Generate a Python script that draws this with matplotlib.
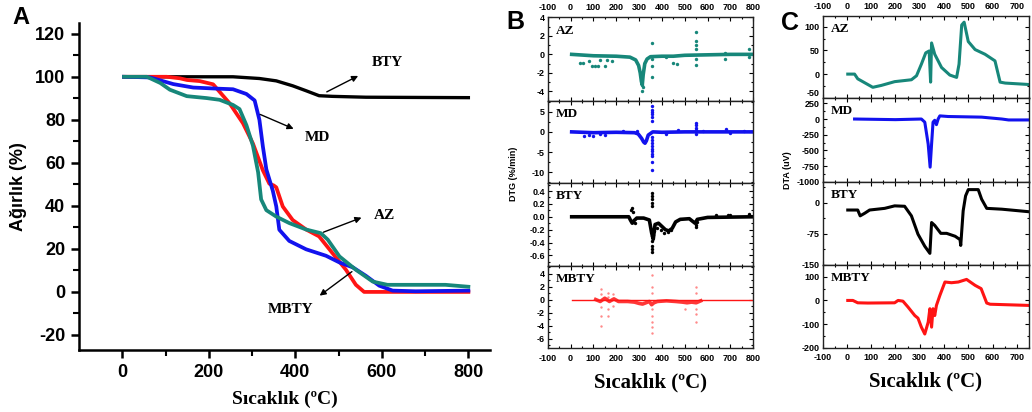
import matplotlib
matplotlib.use("Agg")
import matplotlib.pyplot as plt
from matplotlib.ticker import MultipleLocator, FixedLocator

plt.rcParams['font.family'] = ['Liberation Sans', 'DejaVu Sans']
plt.rcParams['axes.unicode_minus'] = False

TEAL = '#17877a'
BLUE = '#1212ee'
RED = '#ff1414'
BLACK = '#000000'

# ---------------- Panel A: TGA ----------------
az_x = [4, 57, 88, 110, 149, 195, 225, 256, 271, 287, 302, 314, 321, 333, 356, 386, 425, 459, 475, 502, 540, 579, 613, 678, 747, 800]
az_y = [100, 100, 97.1, 94, 91, 90.1, 89.3, 86.9, 85, 77.5, 68, 55.6, 43, 38, 35, 32, 29, 27.3, 24.3, 16.5, 10.3, 4.8, 3.3, 3.3, 3.3, 2.4]
mbty_x = [4, 103, 133, 150, 179, 210, 248, 279, 302, 325, 340, 350, 356, 371, 394, 425, 455, 486, 517, 540, 559, 800]
mbty_y = [100, 100, 99.3, 98.5, 98, 96.5, 87.7, 78.4, 69, 56.5, 50.3, 49.5, 48.6, 39.7, 33.4, 29, 25.8, 18, 10.3, 3.3, 0, 0]
md_x = [4, 64, 118, 164, 218, 256, 287, 306, 317, 325, 333, 348, 356, 363, 386, 425, 471, 502, 533, 563, 594, 625, 678, 800]
md_y = [100, 99.7, 96.6, 95, 94.5, 94.2, 92, 89, 80, 67.6, 57, 47, 39.7, 28.9, 23.7, 19.8, 16.8, 13.7, 11.4, 7.5, 2.9, 0.6, 0.3, 0.6]
bty_x = [4, 256, 317, 356, 394, 425, 455, 486, 563, 800]
bty_y = [100, 100, 99.2, 98.1, 95.8, 93.5, 91.2, 90.9, 90.5, 90.3]

# ---------------- Panel B: DTG ----------------
dtg_az_lx = [5, 100, 200, 260, 285, 298, 305, 310, 314, 318, 325, 335, 350, 400, 450, 500, 600, 700, 800]
dtg_az_ly = [0, -0.15, -0.2, -0.3, -0.6, -1.2, -2.0, -2.9, -3.3, -2.2, -1.0, -0.5, -0.25, -0.2, -0.2, -0.1, -0.05, 0, 0]
dtg_az_px = [40, 53, 80, 95, 105, 120, 130, 150, 160, 180, 311, 314, 318, 358, 358, 358, 358, 420, 450, 465, 547, 547, 547, 547, 547, 547, 678, 678, 782, 782]
dtg_az_py = [-0.9, -0.9, -0.7, -1.26, -1.26, -1.3, -0.6, -1.3, -0.6, -0.7, -3.3, -3.9, -3.5, 1.25, -0.5, -1.3, -2.4, -0.3, -0.9, -1.0, 2.45, 1.4, 1.0, 0.6, -0.5, -1.1, -0.5, 0.1, 0.6, -0.3]

dtg_md_lx = [5, 100, 200, 280, 296, 311, 320, 326, 332, 340, 350, 360, 400, 500, 600, 700, 800]
dtg_md_ly = [0, -0.2, -0.1, -0.2, -0.5, -1.6, -2.5, -2.8, -2.2, -0.8, -0.4, 0, -0.1, 0, 0, 0, 0]
dtg_md_px = [60, 80, 100, 130, 150, 230, 290, 358, 358, 358, 358, 358, 358, 358, 358, 358, 358, 358, 358, 358, 358, 358, 358, 420, 470, 547, 547, 547, 547, 547, 580, 680, 700, 760]
dtg_md_py = [-1.0, -0.7, -0.9, -0.6, -0.8, 0.3, 0.3, 6.3, 5.5, 4.8, 4.3, 3.6, 2.6, -1.2, -2.0, -2.8, -3.5, -4.2, -4.8, -5.4, -6.0, -7.4, -9.5, -0.5, 0.4, 2.3, 1.6, 1.0, 0.5, -0.5, 0.3, 0.6, -0.3, 0.3]

dtg_bty_lx = [5, 255, 262, 270, 278, 290, 320, 345, 355, 362, 370, 385, 400, 415, 430, 445, 460, 480, 520, 545, 555, 600, 800]
dtg_bty_ly = [0, 0, -0.05, -0.1, -0.06, -0.02, -0.02, -0.05, -0.25, -0.35, -0.12, -0.1, -0.15, -0.2, -0.22, -0.18, -0.08, -0.04, -0.03, -0.1, -0.04, -0.01, 0]
dtg_bty_px = [265, 268, 272, 275, 280, 358, 358, 358, 358, 358, 358, 358, 358, 358, 358, 358, 360, 365, 380, 395, 410, 425, 440, 548, 550, 552, 635, 690, 700, 780]
dtg_bty_py = [0.1, 0.13, 0.08, -0.08, -0.1, 0.37, 0.32, 0.27, 0.22, 0.17, -0.2, -0.3, -0.38, -0.45, -0.5, -0.55, -0.28, -0.22, -0.18, -0.2, -0.25, -0.24, -0.2, -0.16, -0.12, -0.08, 0.03, 0.02, 0.02, 0.05]

dtg_mbty_lx = [5, 800]
dtg_mbty_ly = [0, 0]
dtg_mbty_bx = [110, 130, 150, 170, 190, 210, 250, 280, 300, 315, 330, 345, 355, 365, 380, 420, 460, 490, 510, 530, 550, 570]
dtg_mbty_by = [0, -0.3, 0.2, -0.3, 0.1, -0.3, -0.3, -0.4, -0.6, -0.7, -0.5, -0.3, -0.8, -0.5, -0.3, -0.2, -0.3, -0.4, -0.5, -0.4, -0.5, -0.2]
dtg_mbty_px = [133, 133, 133, 133, 133, 163, 163, 163, 163, 184, 184, 358, 358, 358, 358, 358, 358, 358, 358, 503, 547, 547, 547, 547, 547]
dtg_mbty_py = [1.6, 0.8, -1.2, -2.5, -4.0, 1.0, 0.4, -1.4, -2.5, 0.8, -1.0, 3.7, 2.0, 1.0, -1.5, -2.5, -3.5, -4.3, -5.2, -1.5, 2.0, 1.0, -1.5, -2.3, -3.5]

# ---------------- Panel C: DTA ----------------
dta_az_x = [4, 32, 45, 107, 142, 197, 266, 287, 307, 325, 339, 345, 349, 362, 390, 424, 452, 462, 473, 483, 500, 528, 569, 610, 631, 652, 748]
dta_az_y = [0, 0, -10, -28, -24, -16, -12, -3.5, 21, 45, 49, -17, 66, 42, 14, -2, -7, 21, 104, 110, 69, 52, 42, 28, -17, -19, -22]
dta_md_x = [32, 200, 307, 321, 335, 343, 349, 355, 362, 369, 376, 383, 417, 555, 638, 666, 748]
dta_md_y = [0, -10, 0, -50, -400, -768, -400, -50, -20, -90, 0, 50, 40, 30, 0, -15, -15]
dta_bty_x = [4, 45, 55, 73, 94, 156, 197, 238, 266, 293, 321, 342, 349, 362, 387, 411, 446, 466, 469, 479, 489, 500, 541, 555, 576, 638, 748]
dta_bty_y = [-18, -18, -32, -26, -18, -14, -8, -9, -32, -76, -105, -122, -48, -55, -74, -74, -81, -89, -103, -20, 16, 31, 31, 8, -14, -16, -22]
dta_mbty_x = [4, 25, 45, 87, 197, 211, 231, 252, 280, 293, 307, 321, 335, 342, 349, 355, 362, 369, 383, 404, 431, 459, 493, 528, 553, 576, 590, 748]
dta_mbty_y = [0, 0, -10, -11, -10, 0, -3, -28, -64, -75, -113, -142, -92, -35, -113, -35, -64, -21, 21, 78, 75, 78, 89, 64, 50, -11, -16, -21]

x_ticks_bc = [-100, 0, 100, 200, 300, 400, 500, 600, 700, 800]
x_ticks_c = [-100, 0, 100, 200, 300, 400, 500, 600, 700]

W, H = 1032, 412
fig = plt.figure(figsize=(W / 100, H / 100), dpi=100)


def px_axes(left, top, right, bottom):
    return fig.add_axes([left / W, 1 - bottom / H, (right - left) / W, (bottom - top) / H])


SERIF = ['Liberation Serif', 'DejaVu Serif']

# ---- Panel A ----
axA = px_axes(79, 23, 490, 350)
axA.plot(bty_x, bty_y, color=BLACK, lw=2.4)
axA.plot(mbty_x, mbty_y, color=RED, lw=2.7)
axA.plot(md_x, md_y, color=BLUE, lw=2.7)
axA.plot(az_x, az_y, color=TEAL, lw=2.7)
axA.set_xlim(-100, 850)
axA.set_ylim(-27, 125)
axA.spines['top'].set_visible(False)
axA.spines['right'].set_visible(False)
for s in ('left', 'bottom'):
    axA.spines[s].set_linewidth(1.8)
axA.xaxis.set_major_locator(FixedLocator([0, 200, 400, 600, 800]))
axA.xaxis.set_minor_locator(FixedLocator([100, 300, 500, 700]))
axA.yaxis.set_major_locator(MultipleLocator(20))
axA.yaxis.set_minor_locator(MultipleLocator(10))
axA.tick_params(which='major', direction='out', length=6, width=1.8, labelsize=13, pad=4)
axA.tick_params(which='minor', direction='out', length=4, width=1.5)
for lab in axA.get_xticklabels() + axA.get_yticklabels():
    lab.set_fontweight('bold')
axA.set_ylabel('Ağırlık (%)', fontsize=13, fontweight='bold', labelpad=6)
axA.set_xlabel('Sıcaklık (ºC)', fontsize=14, fontweight='bold', family=SERIF, labelpad=7)

arrow = dict(arrowstyle='-|>', color='black', lw=1.0, mutation_scale=9)
axA.annotate('', xy=(551, 101), xytext=(467, 92.4), arrowprops=arrow)
axA.text(612, 106.5, 'BTY', family=SERIF, fontweight='bold', fontsize=11, ha='center', va='center')
axA.annotate('', xy=(402, 75.3), xytext=(313, 83), arrowprops=arrow)
axA.text(451, 72, 'MD', family=SERIF, fontweight='bold', fontsize=11, ha='center', va='center')
axA.annotate('', xy=(559, 35), xytext=(459, 27.3), arrowprops=arrow)
axA.text(605, 35.3, 'AZ', family=SERIF, fontweight='bold', fontsize=11, ha='center', va='center')
axA.annotate('', xy=(451, -2.5), xytext=(536, 10.2), arrowprops=arrow)
axA.text(390, -8, 'MBTY', family=SERIF, fontweight='bold', fontsize=11, ha='center', va='center')

fig.text(21 / W, 1 - 18 / H, 'A', fontsize=17, fontweight='bold', ha='center', va='center')


def style_stack(ax, xlim, xticks, minor_x, ylim, ymaj, ymin, first, last, name):
    ax.set_xlim(*xlim)
    ax.set_ylim(*ylim)
    ax.xaxis.set_major_locator(FixedLocator(xticks))
    ax.xaxis.set_minor_locator(MultipleLocator(minor_x))
    ax.yaxis.set_major_locator(FixedLocator(ymaj))
    ax.yaxis.set_minor_locator(MultipleLocator(ymin))
    ax.tick_params(which='both', direction='in', top=True, right=True, width=0.8,
                   labelsize=6.5, labeltop=first, labelbottom=last)
    ax.tick_params(axis='y', pad=2)
    ax.tick_params(axis='x', pad=4)
    ax.tick_params(which='major', length=3)
    ax.tick_params(which='minor', length=1.6)
    for s in ax.spines.values():
        s.set_linewidth(1.0)
        s.set_color('#222222')
    for lab in ax.get_xticklabels() + ax.get_yticklabels():
        lab.set_fontweight('bold')
    ax.text(0.04, 0.84, name, transform=ax.transAxes, family=SERIF, fontweight='bold',
            fontsize=9.5, ha='left', va='center')


# ---- Panel B ----
b_bounds = [17.3, 100.7, 183.3, 265.7, 348.3]
b_specs = [
    ('AZ', TEAL, dtg_az_lx, dtg_az_ly, dtg_az_px, dtg_az_py, (-5, 4), [-4, -2, 0, 2, 4], 1),
    ('MD', BLUE, dtg_md_lx, dtg_md_ly, dtg_md_px, dtg_md_py, (-12.7, 7.7), [-10, -5, 0, 5], 2.5),
    ('BTY', BLACK, dtg_bty_lx, dtg_bty_ly, dtg_bty_px, dtg_bty_py, (-0.76, 0.52), [-0.6, -0.4, -0.2, 0.0, 0.2, 0.4], 0.1),
    ('MBTY', RED, dtg_mbty_lx, dtg_mbty_ly, dtg_mbty_px, dtg_mbty_py, (-7.5, 5.2), [-6, -4, -2, 0, 2, 4], 1),
]
for i, (name, col, lx, ly, ptx, pty, ylim, ymaj, ymin) in enumerate(b_specs):
    ax = px_axes(547.7, b_bounds[i], 753.3, b_bounds[i + 1])
    if name == 'MBTY':
        ax.plot(lx, ly, color=col, lw=1.0)
        ax.plot(dtg_mbty_bx, dtg_mbty_by, color=col, lw=2.6, alpha=0.85)
        ax.scatter(ptx, pty, s=3, color=col, alpha=0.5, lw=0)
    else:
        ax.plot(lx, ly, color=col, lw=2.6)
        ax.scatter(ptx, pty, s=6, color=col, lw=0)
    fmt = '%.1f' if name == 'BTY' else '%d'
    style_stack(ax, (-100, 800), x_ticks_bc, 50, ylim, ymaj, ymin, i == 0, i == 3, name)
    ax.set_yticklabels([fmt % v for v in ymaj], fontweight='bold')
    if i == 3:
        ax.set_xlabel('Sıcaklık (ºC)', fontsize=15, fontweight='bold', family=SERIF, labelpad=7)

fig.text(513 / W, 1 - 174 / H, 'DTG (%/min)', rotation=90, fontsize=6.5, fontweight='bold', ha='center', va='center')
fig.text(515 / W, 1 - 22 / H, 'B', fontsize=18, fontweight='bold', ha='center', va='center')

# ---- Panel C ----
c_bounds = [16.5, 97.7, 181.7, 265, 347.7]
c_specs = [
    ('AZ', TEAL, dta_az_x, dta_az_y, (-50, 122), [-50, 0, 50, 100], 25),
    ('MD', BLUE, dta_md_x, dta_md_y, (-1000, 340), [-1000, -750, -500, -250, 0, 250], 125),
    ('BTY', BLACK, dta_bty_x, dta_bty_y, (-150, 50), [-150, -75, 0], 37.5),
    ('MBTY', RED, dta_mbty_x, dta_mbty_y, (-200, 150), [-200, -100, 0, 100], 50),
]
for i, (name, col, x, y, ylim, ymaj, ymin) in enumerate(c_specs):
    ax = px_axes(822.5, c_bounds[i], 1029, c_bounds[i + 1])
    ax.plot(x, y, color=col, lw=2.2)
    style_stack(ax, (-100, 750), x_ticks_c, 50, ylim, ymaj, ymin, i == 0, i == 3, name)
    if name == 'AZ':
        ylabs = ax.get_yticklabels()
        ylabs[0].set_verticalalignment('bottom')
    if i == 3:
        ax.set_xlabel('Sıcaklık (ºC)', fontsize=15, fontweight='bold', family=SERIF, labelpad=7)

fig.text(787 / W, 1 - 170 / H, 'DTA (uV)', rotation=90, fontsize=6.5, fontweight='bold', ha='center', va='center')
fig.text(790 / W, 1 - 23 / H, 'C', fontsize=18, fontweight='bold', ha='center', va='center')

fig.savefig('out.png', dpi=100)
